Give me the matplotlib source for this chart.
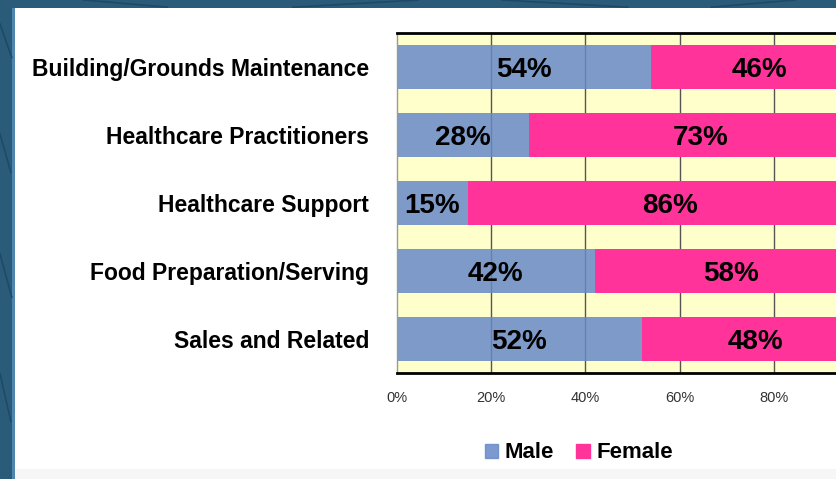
import matplotlib.pyplot as plt
from matplotlib.patches import Rectangle
import numpy as np

plt.rcParams['font.family'] = ['Liberation Sans', 'DejaVu Sans']

# occupations, top to bottom
categories = ['Building/Grounds Maintenance', 'Healthcare Practitioners',
              'Healthcare Support', 'Food Preparation/Serving', 'Sales and Related']
male = [54, 28, 15, 42, 52]
female = [46, 73, 86, 58, 48]
xticks = [0, 20, 40, 60, 80]
xtick_labels = ['0%', '20%', '40%', '60%', '80%']

male_col = '#6689C8'
female_col = '#FF3399'

W, H = 837, 479
fig = plt.figure(figsize=(W / 100, H / 100), dpi=100, facecolor='#2A5C7A')
# white slide panel over the teal border
fig.patches.append(Rectangle((15 / W, 0), 1, (H - 8) / H, transform=fig.transFigure,
                             facecolor='white', edgecolor='none', zorder=0))
fig.patches.append(Rectangle((15 / W, 0), 1, 10 / H, transform=fig.transFigure,
                             facecolor='#F6F6F6', edgecolor='none', zorder=0))
fig.patches.append(Rectangle((12 / W, 0), 3 / W, (H - 8) / H, transform=fig.transFigure,
                             facecolor='#4F86AE', edgecolor='none', zorder=0))
# a few faint pattern strokes on the border
for x0, y0, x1, y1 in [(0, 0.95, 0.014, 0.88), (0, 0.72, 0.013, 0.64), (0, 0.47, 0.014, 0.38),
                       (0, 0.22, 0.013, 0.12), (0.1, 1, 0.2, 0.985), (0.35, 0.985, 0.5, 1),
                       (0.6, 1, 0.75, 0.985), (0.85, 0.985, 0.95, 1)]:
    fig.add_artist(plt.Line2D([x0, x1], [y0, y1], transform=fig.transFigure,
                              color='#1E4A66', lw=1.2, zorder=0.5))

# axes runs past the right edge of the picture (cropped like the original)
ax = fig.add_axes([397 / W, (H - 373) / H, 471 / W, 340 / H], zorder=2)
ax.set_facecolor('#FFFFCC')

y = np.arange(len(categories))
for g in xticks[1:]:
    ax.axvline(g, color='#555555', lw=1, zorder=1.5)

male_arr = np.array(male)
fem_arr = np.array(female)
ax.barh(y, male_arr, height=0.66, color=male_col, alpha=0.85, zorder=2)
ax.barh(y, fem_arr, left=male_arr, height=0.66, color=female_col, zorder=2)

for i in range(len(categories)):
    ax.text(male_arr[i] / 2, y[i] + 0.04, f'{male[i]}%', ha='center', va='center',
            fontsize=20, fontweight='bold', color='black', zorder=3)
    ax.text(male_arr[i] + fem_arr[i] / 2, y[i] + 0.04, f'{female[i]}%', ha='center', va='center',
            fontsize=20, fontweight='bold', color='black', zorder=3)

ax.set_xlim(0, 100)
ax.set_ylim(len(categories) - 0.5, -0.5)
ax.set_xticks(xticks, labels=xtick_labels)
ax.set_yticks(y, labels=categories)
ax.tick_params(axis='x', length=0, pad=13, labelsize=10.5, labelcolor='#333333')
ax.tick_params(axis='y', length=0, pad=20, labelsize=16.5)
for lab in ax.get_yticklabels():
    lab.set_fontweight('bold')

ax.spines['top'].set_color('black')
ax.spines['top'].set_linewidth(2)
ax.spines['bottom'].set_color('black')
ax.spines['bottom'].set_linewidth(2)
ax.spines['left'].set_color('#999999')
ax.spines['left'].set_linewidth(1)
ax.spines['right'].set_visible(False)

handles = [Rectangle((0, 0), 1, 1, color=male_col, alpha=0.85),
           Rectangle((0, 0), 1, 1, color=female_col)]
leg = fig.legend(handles, ['Male', 'Female'], loc='center', bbox_to_anchor=(579 / W, (H - 453) / H),
                 ncol=2, frameon=False, handlelength=0.6, handleheight=0.6, handletextpad=0.3,
                 columnspacing=1.0, prop={'size': 16, 'weight': 'bold'})

fig.savefig('out.png', dpi=100, facecolor=fig.get_facecolor())
